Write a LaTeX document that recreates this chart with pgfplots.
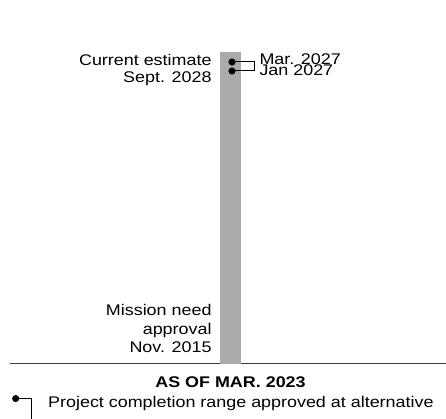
\documentclass[border=0pt]{standalone}
\usepackage{fontspec}
\setmainfont{Liberation Sans}
\usepackage{graphicx}
\usepackage{pgfplots}
\pgfplotsset{compat=1.18}
\definecolor{bargray}{RGB}{170,170,170}
\definecolor{axisgray}{RGB}{60,60,60}
\newcommand{\sx}[1]{\scalebox{1.16}[1]{#1}}
\begin{document}
\begin{tikzpicture}
\useasboundingbox (0,0) rectangle (446bp,419bp);
\begin{axis}[
  at={(10bp,55bp)}, anchor=south west,
  scale only axis, width=436bp, height=312bp,
  xmin=0, xmax=436, ymin=0, ymax=312,
  axis x line*=bottom, axis y line=none,
  x axis line style={draw=axisgray, line width=1bp},
  xtick=\empty, ytick=\empty,
  clip=false,
  legend style={at={(axis cs:2,-30)}, anchor=north west, draw=none, fill=none,
    font=\fontsize{15.5}{17.5}\selectfont, inner sep=0pt},
  legend cell align=left,
  legend image code/.code={%
    \fill (3bp,4bp) circle (3bp);
    \draw[line width=1bp] (3bp,4bp) -- (19bp,4bp) -- (19bp,-20bp);},
]
% timeline bar: mission need approval (Nov. 2015) to current estimate (Sept. 2028)
\addplot[ybar, bar width=21bp, fill=bargray, draw=none, forget plot]
  coordinates {(220.5,312)};
% approved completion range (Jan 2027 - Mar. 2027)
\addplot[only marks, mark=*, mark size=3.3bp, black, forget plot]
  coordinates {(222,302) (222,293)};
\addplot[black, line width=1bp, sharp plot]
  coordinates {(222,302) (244,302) (244,293) (222,293)};
\addlegendentry{\hspace{14bp}\sx{Project completion range approved at alternative}}
\begin{scope}[every node/.style={font=\fontsize{15.5}{17.5}\selectfont, inner sep=0pt}]
\node[anchor=base east] at (axis cs:201.7,298.3) {\sx{Current estimate}};
\node[anchor=base east] at (axis cs:201.7,281.7) {\sx{Sept. 2028}};
\node[anchor=base east] at (axis cs:201.7,48) {\sx{Mission need}};
\node[anchor=base east] at (axis cs:201.7,29.8) {\sx{approval}};
\node[anchor=base east] at (axis cs:201.7,11.3) {\sx{Nov. 2015}};
\node[anchor=base west] at (axis cs:249.3,299.3) {\sx{Mar. 2027}};
\node[anchor=base west] at (axis cs:249.3,288.5) {\sx{Jan 2027}};
\node[anchor=base, font=\fontsize{15.5}{17.5}\selectfont\bfseries] at (axis cs:220.5,-23.3) {\sx{AS OF MAR. 2023}};
\end{scope}
\end{axis}
\end{tikzpicture}
\end{document}
